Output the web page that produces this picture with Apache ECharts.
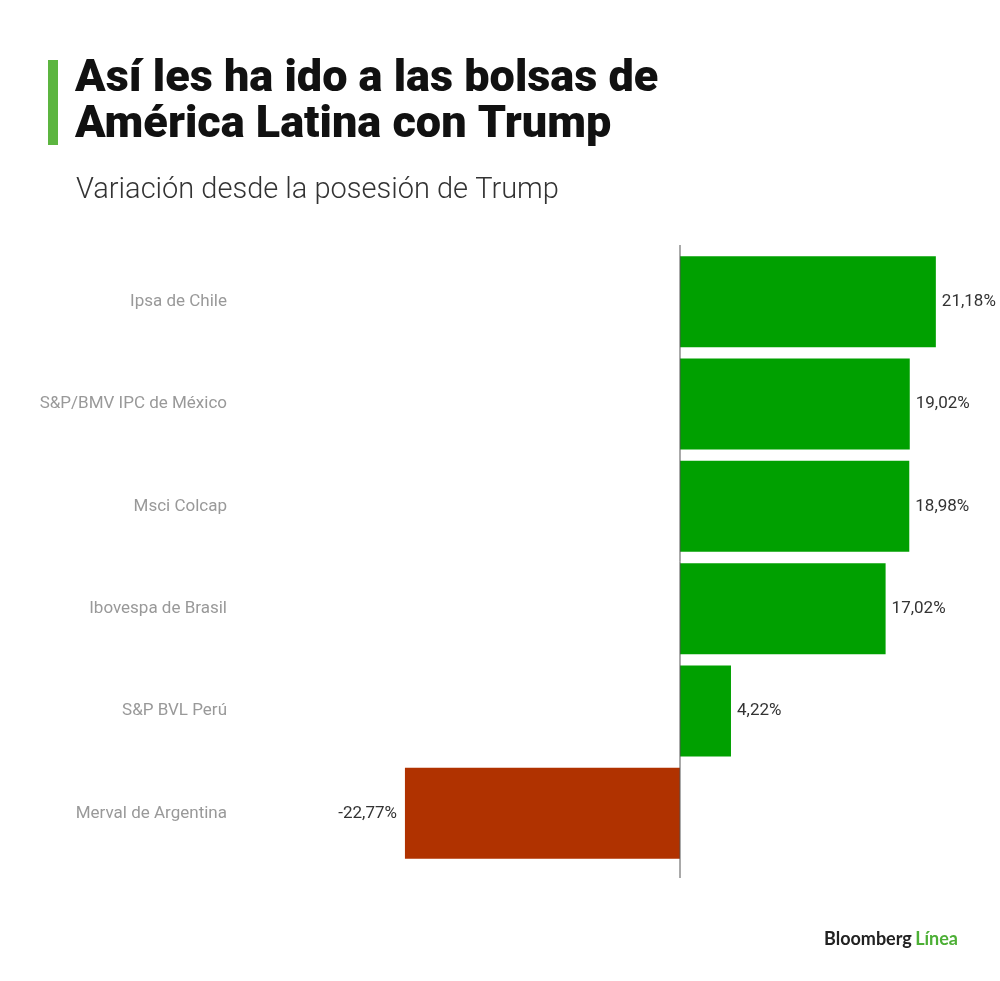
<!DOCTYPE html>
<html>
<head>
<meta charset="utf-8">
<script src="https://cdn.jsdelivr.net/npm/echarts@6/dist/echarts.min.js"></script>
<style>
html,body{margin:0;padding:0;background:#fff;}
#chart{width:1000px;height:981px;}
</style>
</head>
<body>
<div id="chart"></div>
<script>
const categories = ["Ipsa de Chile","S&P/BMV IPC de México","Msci Colcap","Ibovespa de Brasil","S&P BVL Perú","Merval de Argentina"];
const values = [21.18, 19.02, 18.98, 17.02, 4.22, -22.77];
const titleText = "Así les ha ido a las bolsas de\nAmérica Latina con Trump";
const subtitleText = "Variación desde la posesión de Trump";

const chart = echarts.init(document.getElementById('chart'));
const fmt = v => v.toFixed(2).replace('.', ',') + '%';

chart.setOption({
  backgroundColor: '#fff',
  animation: false,
  title: [{
    text: titleText,
    left: 70, top: 52,
    textStyle: { fontFamily: 'Roboto', fontWeight: 900, fontSize: 45, lineHeight: 46, color: '#111' }
  }, {
    text: subtitleText,
    left: 71, top: 171,
    textStyle: { fontFamily: 'Roboto', fontWeight: 300, fontSize: 29, color: '#333' }
  }],
  grid: { left: 378, right: 18, top: 250.5, height: 614, containLabel: false },
  xAxis: {
    type: 'value', min: -25, max: 25,
    axisLine: { show: false }, axisTick: { show: false }, axisLabel: { show: false }, splitLine: { show: false }
  },
  yAxis: {
    type: 'category', data: categories, inverse: true,
    axisLine: { show: false },
    axisTick: { show: false },
    axisLabel: { margin: 151, color: '#999', fontFamily: 'Roboto', fontSize: 17 }
  },
  series: [{
    type: 'bar',
    data: values.map(v => ({ value: v, itemStyle: { color: v >= 0 ? '#00a000' : '#b03200' },
      label: { position: v >= 0 ? 'right' : 'left', distance: v >= 0 ? 6 : 8 } })),
    barCategoryGap: '11%',
    label: { show: true, color: '#333', fontFamily: 'Roboto', fontSize: 17, formatter: p => fmt(p.value) }
  }]
});

const x0 = chart.convertToPixel({ xAxisIndex: 0 }, 0);
chart.setOption({
  graphic: [
    { type: 'rect', left: 48, top: 60, shape: { width: 10, height: 85 }, style: { fill: '#5cb540' } },
    { type: 'line', z: 10, shape: { x1: x0, y1: 245, x2: x0, y2: 878 }, style: { stroke: '#555', lineWidth: 1 } },
    { type: 'text', right: 42, top: 930, style: { text: '{a|Bloomberg} {b|Línea}', rich: {
      a: { fontFamily: 'Lato', fontWeight: 'bold', fontSize: 18, fill: '#222' },
      b: { fontFamily: 'Lato', fontWeight: 'bold', fontSize: 18, fill: '#4caf35' } } } }
  ]
});
</script>
</body>
</html>
